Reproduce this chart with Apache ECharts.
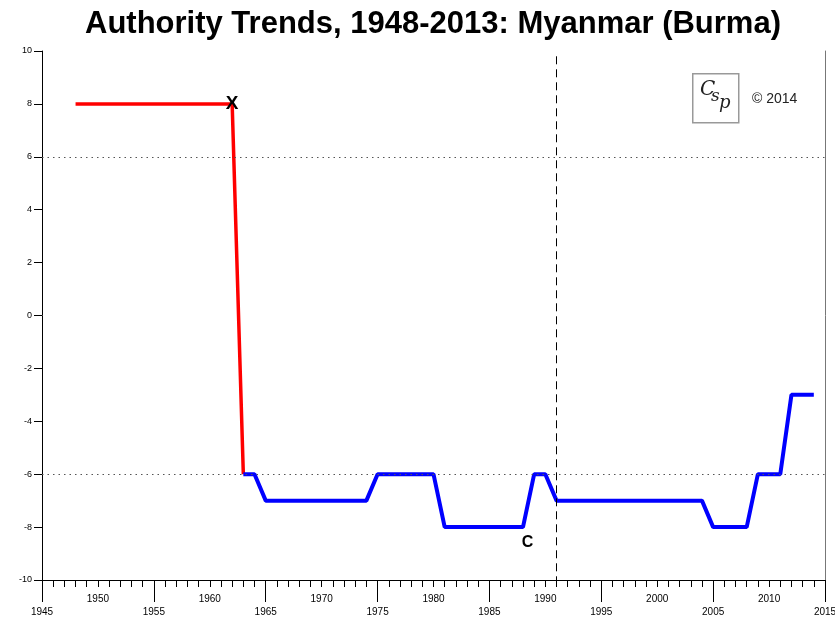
<!DOCTYPE html>
<html>
<head>
<meta charset="utf-8">
<script src="https://cdn.jsdelivr.net/npm/echarts@6/dist/echarts.min.js"></script>
<style>
html,body{margin:0;padding:0;background:#fff;}
#chart{width:835px;height:619px;}
</style>
</head>
<body>
<div id="chart"></div>
<script>
// ---- data ----
var titleText = 'Authority Trends, 1948-2013: Myanmar (Burma)';
var redSeries = [[1948, 8], [1962, 8], [1963, -6]];
var blueSeries = [[1963, -6], [1964, -6], [1965, -7], [1974, -7], [1975, -6], [1980, -6], [1981, -8], [1988, -8],
                  [1989, -6], [1990, -6], [1991, -7], [2004, -7], [2005, -8], [2008, -8], [2009, -6], [2011, -6],
                  [2012, -3], [2014, -3]];
var markerLabels = ['X', 'C'];
var markerPoints = [[1962, 8], [1988.4, -8.6]];
var thresholdLines = [6, -6];
var changeYear = 1991;
var xMin = 1945, xMax = 2015;
var yMin = -10, yMax = 10;
var copyrightText = '\u00A9 2014';

var chart = echarts.init(document.getElementById('chart'));
var font = 'Arial, "Liberation Sans", sans-serif';

var option = {
  backgroundColor: '#ffffff',
  animation: false,
  title: {
    text: titleText, left: 80, top: 4,
    textStyle: {fontFamily: font, fontSize: 31, fontWeight: 'bold', color: '#000'}
  },
  grid: {left: 42, right: 10, top: 51, bottom: 39, containLabel: false, outerBoundsMode: 'none'},
  xAxis: [{
    type: 'value', min: xMin, max: xMax, interval: 5,
    axisLine: {show: true, onZero: false, lineStyle: {color: '#000', width: 1}},
    axisTick: {show: true, length: 7, lineStyle: {color: '#000'}},
    minorTick: {show: true, splitNumber: 5, length: 7, lineStyle: {color: '#000'}},
    splitLine: {show: false},
    axisLabel: {
      margin: 14, fontFamily: font, fontSize: 10, color: '#000',
      formatter: function (v) { return (v % 10 === 5) ? '{lo|' + v + '}' : '{hi|' + v + '}'; },
      rich: {
        hi: {fontFamily: font, fontSize: 10, color: '#000', padding: [0, 0, 13, 0]},
        lo: {fontFamily: font, fontSize: 10, color: '#000', padding: [13, 0, 0, 0]}
      }
    }
  }, {
    type: 'value', min: xMin, max: xMax, interval: 10, position: 'bottom',
    axisLine: {show: false, onZero: false},
    axisTick: {show: true, length: 22, lineStyle: {color: '#000'}},
    axisLabel: {show: false}, splitLine: {show: false}
  }],
  yAxis: [{
    type: 'value', min: yMin, max: yMax, interval: 2,
    axisLine: {show: true, onZero: false, lineStyle: {color: '#000', width: 1}},
    axisTick: {show: true, length: 8, lineStyle: {color: '#000'}},
    splitLine: {show: false},
    axisLabel: {margin: 10, fontFamily: font, fontSize: 9, color: '#000'}
  }, {
    type: 'value', min: yMin, max: yMax, position: 'right',
    axisLine: {show: true, onZero: false, lineStyle: {color: '#777', width: 1}},
    axisTick: {show: false}, axisLabel: {show: false}, splitLine: {show: false}
  }],
  series: [{
    type: 'line', data: redSeries, symbol: 'none',
    lineStyle: {color: '#ff0000', width: 3.5}, z: 3,
    markLine: {
      silent: true, symbol: 'none', label: {show: false},
      lineStyle: {color: '#555', type: [1.5, 4], width: 1},
      data: thresholdLines.map(function (v) { return {yAxis: v}; })
    }
  }, {
    type: 'line', data: blueSeries, symbol: 'none',
    lineStyle: {color: '#0000ff', width: 4}, z: 3,
    markLine: {
      silent: true, symbol: 'none', label: {show: false},
      lineStyle: {color: '#000', type: [8, 5], width: 1},
      data: [[{coord: [changeYear, yMax - 0.2]}, {coord: [changeYear, yMin]}]]
    },
    markPoint: {
      silent: true, symbol: 'rect', symbolSize: 1,
      itemStyle: {color: 'rgba(0,0,0,0)'},
      data: markerPoints.map(function (p, i) {
        return {coord: p, name: markerLabels[i], value: markerLabels[i],
                label: {fontSize: i === 0 ? 19 : 16}};
      }),
      label: {
        show: true, position: 'inside', formatter: '{b}',
        color: '#000', fontFamily: font, fontWeight: 'bold', fontSize: 17,
        textBorderWidth: 0, opacity: 1
      }
    }
  }],
  graphic: [{
    type: 'rect', left: 692, top: 73,
    shape: {width: 46, height: 49},
    style: {fill: '#fff', stroke: '#999', lineWidth: 1.5}
  }, {
    type: 'text', left: 700, top: 80,
    style: {text: 'C', font: 'italic 20px "DejaVu Serif", serif', fill: '#222'}
  }, {
    type: 'text', left: 711, top: 88,
    style: {text: 's', font: 'italic 17px "DejaVu Serif", serif', fill: '#222'}
  }, {
    type: 'text', left: 719, top: 94,
    style: {text: 'p', font: 'italic 18px "DejaVu Serif", serif', fill: '#222'}
  }, {
    type: 'text', left: 752, top: 92,
    style: {text: copyrightText, font: '14px Arial, "Liberation Sans", sans-serif', fill: '#222'}
  }]
};
chart.setOption(option);
</script>
</body>
</html>
